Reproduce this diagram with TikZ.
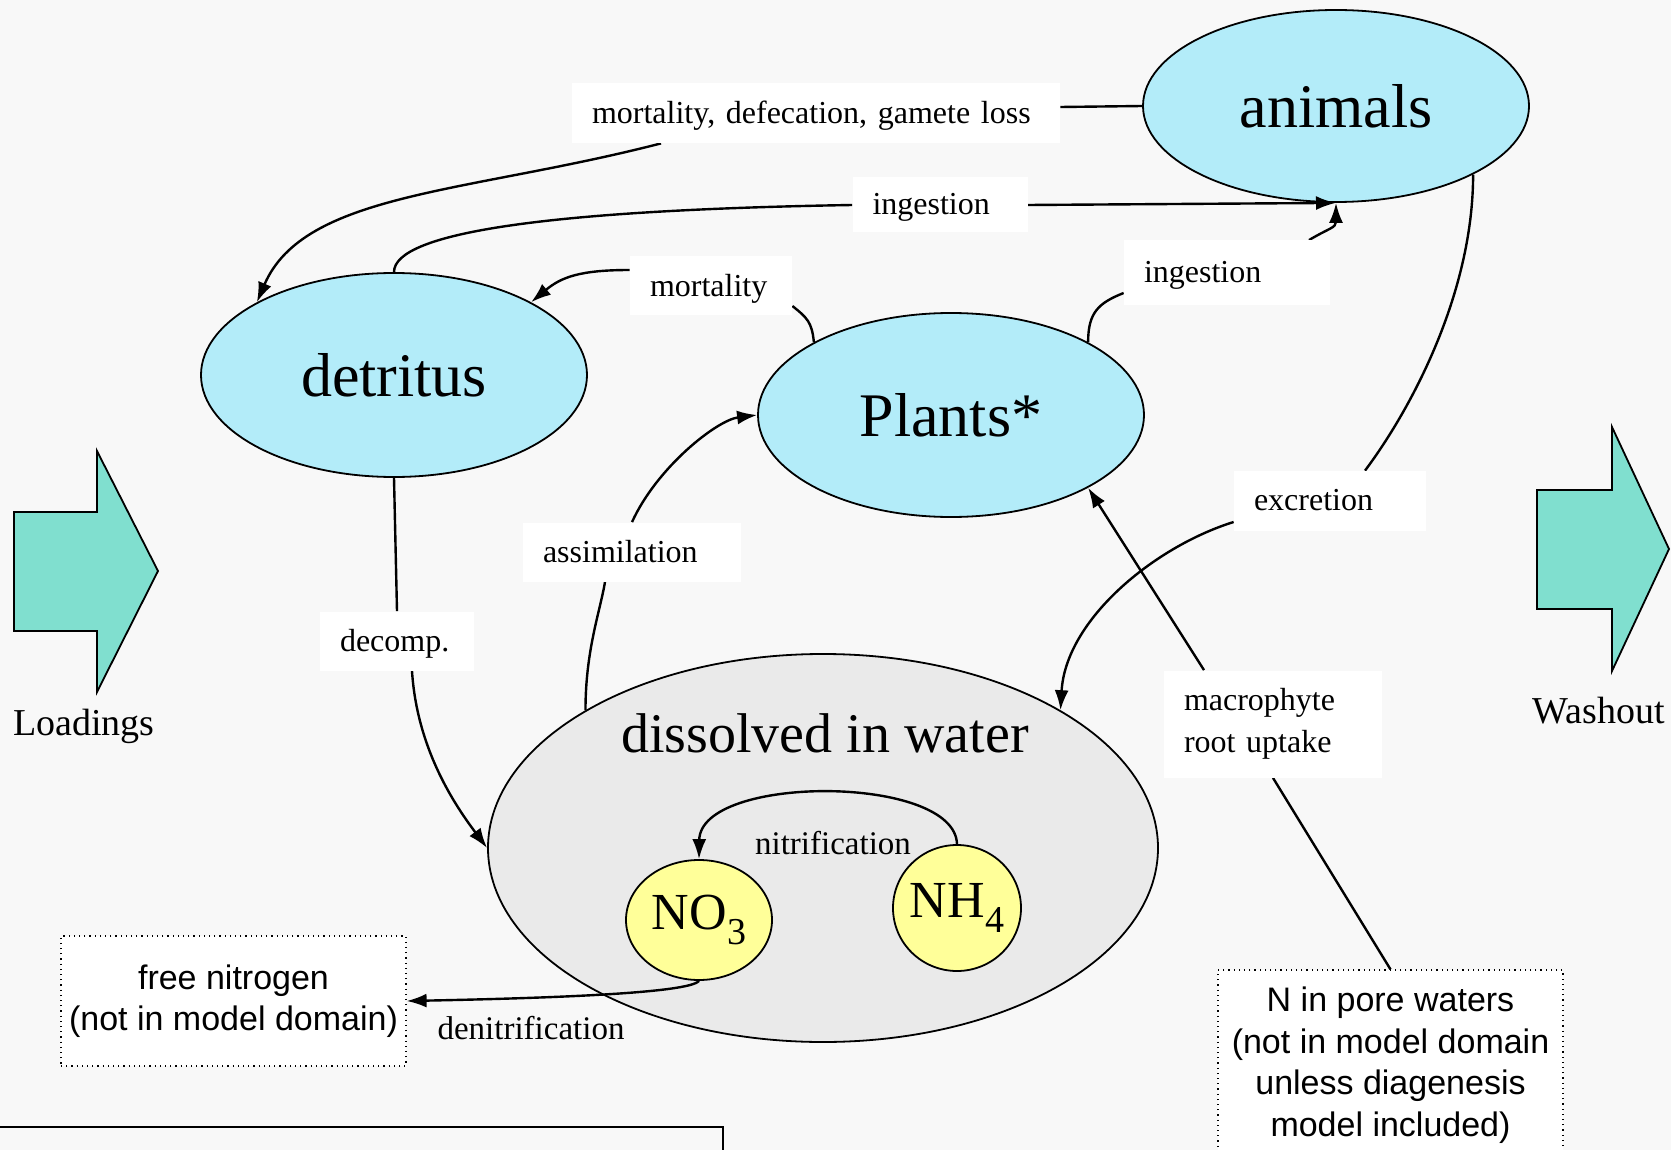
\documentclass[tikz,border=0pt]{standalone}
\usepackage{fontspec}
\setmainfont{Liberation Serif}
\newfontfamily\arialfont{Liberation Sans}
\usetikzlibrary{shapes.geometric,arrows.meta}
\pgfdeclarelayer{back}
\pgfdeclarelayer{lines}
\pgfsetlayers{back,lines,main}

\definecolor{pagegray}{HTML}{F8F8F8}
\definecolor{poolblue}{HTML}{B3ECF9}
\definecolor{watergray}{HTML}{EAEAEA}
\definecolor{ionyellow}{HTML}{FFFF99}
\definecolor{flowteal}{HTML}{80DFCF}
\tikzstyle{pool} = [draw, ellipse, line width=0.9pt, fill=poolblue, inner sep=0pt, font=\fontsize{31}{31}\selectfont]
\newcommand{\ionsub}[1]{\raisebox{-0.28em}{\fontsize{19}{19}\selectfont #1}}

\begin{document}
\begin{tikzpicture}[x=0.5pt,y=-0.5pt,
			flux/.style={line width=1.2pt},
			arr/.style={flux,-{Latex[length=10pt,width=7pt]}},
			tag/.style={fill=white, align=left, inner xsep=10pt, inner ysep=0pt, text depth=1pt, font=\fontsize{16}{20.8}\selectfont},
			ion/.style={draw, ellipse, line width=0.9pt, fill=ionyellow, inner sep=0pt, font=\fontsize{26}{26}\selectfont},
			note/.style={draw, dotted, line width=0.6pt, fill=white, align=center, inner sep=0pt, font=\arialfont\fontsize{17}{20.8}\selectfont},
			bigarrow/.style={draw, line width=0.9pt, fill=flowteal}]
			\useasboundingbox (0,0) rectangle (1671,1150);
			
			\begin{pgfonlayer}{back}
			\fill[pagegray] (0,0) rectangle (1671,1150);
			\draw[line width=1pt] (-10,1127) rectangle (723,1200);
			\draw[bigarrow] (14,512) -- (97,512) -- (97,451) -- (158,571) -- (97,692) -- (97,631) -- (14,631) -- cycle;
			\draw[bigarrow] (1537,490) -- (1612,490) -- (1612,427) -- (1669,549) -- (1612,671) -- (1612,609) -- (1537,609) -- cycle;
			
			\node (det)[pool, minimum width=193pt, minimum height=102pt] at (394,375) {detritus};
			\node (pla)[pool, minimum width=193pt, minimum height=102pt] at (951,415) {Plants*};
			\node (ani)[pool, minimum width=193pt, minimum height=96pt] at (1336,106) {animals};
			\node (dis)[pool, fill=watergray, minimum width=335pt, minimum height=194pt] at (823,848) {};
			\node (no3)[ion, minimum width=73pt, minimum height=60pt] at (699,920) {\makebox[0pt]{NO\ionsub{3}}};
			\node (nh4)[ion, minimum width=64pt, minimum height=63pt] at (957,908) {\makebox[0pt]{NH\ionsub{4}}};
			\end{pgfonlayer}
			
			\node (distxt)[font=\fontsize{28}{28}\selectfont] at (825,733) {dissolved in water};
			\node (load)[font=\fontsize{19}{19}\selectfont] at (84,726) {Loadings};
			\node (wash)[font=\fontsize{19}{19}\selectfont] at (1599,711) {Washout};
			
			\node (mdg)[tag, text width=224pt, minimum height=30pt] at (816,113) {mortality, defecation, gamete loss};
			\node (ing1)[tag, text width=67.5pt, minimum height=27.5pt] at (940,205) {ingestion};
			\node (mor)[tag, text width=61pt, minimum height=29.5pt] at (711,286) {mortality};
			\node (ing2)[tag, text width=83pt, minimum height=32.5pt] at (1227,273) {ingestion};
			\node (ass)[tag, text width=89pt, minimum height=29.5pt] at (632,552) {assimilation};
			\node (exc)[tag, text width=76pt, minimum height=30pt] at (1330,501) {excretion};
			\node (dec)[tag, text width=57pt, minimum height=29.5pt] at (397,641) {decomp.};
			\node (mac)[tag, text depth=, text width=89pt, minimum height=53.5pt] at (1273,724) {macrophyte\\root uptake};
			\node (nit)[font=\fontsize{16.5}{16.5}\selectfont] at (833,843) {nitrification};
			\node (den)[font=\fontsize{16.5}{16.5}\selectfont] at (531,1028) {denitrification};
			
			\node (free)[note, minimum width=172.5pt, minimum height=65pt] at (233.5,1001) {free nitrogen\\(not in model domain)};
			\node (pore)[note, minimum width=172.5pt, minimum height=95pt] at (1390.5,1065) {N in pore waters\\(not in model domain\\unless diagenesis\\model included)};
			
			\begin{pgfonlayer}{lines}
			\draw[flux] (ani.west) -- ([yshift=3pt]mdg.east);
			\draw[arr] ([xshift=-77.5pt]mdg.south) .. controls +(-194,50) and +(47,-110) .. (det.north west);
			\draw[flux] (det.north) .. controls +(0,-40) and +(-300,5) .. (ing1.west);
			\draw[arr] (ing1.east) -- (ani.south);
			\draw[flux] (pla.north west) .. controls +(-2,-20) and +(15,12) .. ([yshift=-10pt]mor.east);
			\draw[arr] ([yshift=8pt]mor.west) .. controls +(-50,0) and +(30,-25) .. (det.north east);
			\draw[flux] (pla.north east) .. controls +(0,-30) and +(-25,10) .. ([yshift=-10pt]ing2.west);
			\draw[arr] ([xshift=41pt]ing2.north) .. controls +(20,-12) and +(0,25) .. (ani.south);
			\draw[flux] (ani.south east) .. controls +(0,120) and +(45,-60) .. ([xshift=17.5pt]exc.north);
			\draw[arr] ([yshift=-10.5pt]exc.west) .. controls +(-80,25) and +(5,-90) .. (dis.north east);
			\draw[flux] (dis.north west) .. controls +(0,-60) and +(-5,30) .. ([xshift=-13.5pt]ass.south);
			\draw[arr] (ass.north) .. controls +(25,-55) and +(-40,5) .. (pla.west);
			\draw[flux] (det.south) -- (dec.north);
			\draw[arr] ([xshift=7.5pt]dec.south) .. controls +(5,80) and +(-30,-40) .. (dis.west);
			\draw[flux] (pore.north) -- (mac.south);
			\draw[arr] ([xshift=-34.5pt]mac.north) -- (pla.south east);
			\draw[arr] (nh4.north) .. controls +(-2,-70) and +(1,-85) .. (no3.north);
			\draw[arr] (no3.south) .. controls +(-10,12) and +(150,-3) .. (free.east);
			\end{pgfonlayer}
		\end{tikzpicture}
\end{document}
